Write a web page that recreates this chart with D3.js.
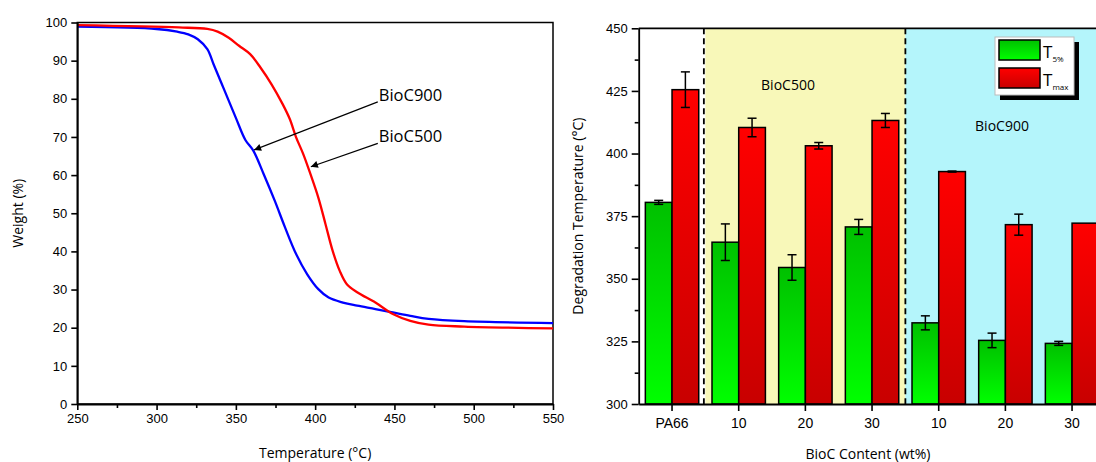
<!DOCTYPE html>
<html>
<head>
<meta charset="utf-8">
<script src="https://cdn.jsdelivr.net/npm/d3@7"></script>
<style>
  body { margin: 0; background: #fff; }
  svg { font-family: "Open Sans", sans-serif; }
</style>
</head>
<body>
<div id="chart"></div>
<script>
/* TGA curves (temperature in °C, weight in %) */
var bioc900 = [
  [250, 98.9], [300, 98.3], [313, 97.6], [320, 96.9], [326, 95.6], [332, 93],
  [336, 89], [343, 82], [350, 75], [356, 69.2], [361, 66.4], [367.5, 60.3],
  [374.5, 53.3], [381, 46.3], [388, 39.3], [395, 34], [402, 30.1], [408.5, 27.9],
  [417.5, 26.6], [426.5, 25.8], [438, 24.9], [449, 24], [460, 23.1], [471.5, 22.3],
  [494, 21.7], [550, 21.2]
];
var bioc500 = [
  [250, 99.3], [314, 98.7], [332, 98.3], [338.5, 97.6], [345.5, 96], [352, 93.9],
  [359, 91.7], [365.5, 88.2], [372.5, 83.8], [379.5, 78.6], [384, 74.7], [388, 69.9],
  [392.5, 65.5], [397, 60.3], [402, 54.1], [406.5, 47.2], [411, 40.2], [415.5, 34.9],
  [420, 31.4], [426.5, 29.3], [438, 26.6], [449, 23.6], [460, 21.8], [471.5, 20.8],
  [494, 20.3], [550, 19.8]
];
/* annotation labels: [text, tail x, tail y, tip x, tip y] in data units */
var notes = [
  ["BioC900", 439.5, 79.2, 361.5, 66.6],
  ["BioC500", 439.5, 68.3, 397.3, 62.2]
];

/* bar chart */
var categories = ["PA66", "10", "20", "30", "10 ", "20 ", "30 "];
var t5 = [380.5, 364.6, 354.5, 370.7, 332.4, 325.4, 324.2];
var t5Err = [0.8, 7.3, 5.1, 3.0, 2.8, 2.9, 0.8];
var tmax = [425.5, 410.4, 403.1, 413.2, 392.8, 371.6, 372.2];
var tmaxErr = [7.1, 3.7, 1.3, 2.8, 0.2, 4.2, 0];
var regionNames = ["BioC500", "BioC900"];
var regionFills = ["#f8f8b9", "#b4f5fb"];
var regionBands = [[1, 4], [4, 7]];

var svg = d3.select("#chart").append("svg")
    .attr("width", 1096)
    .attr("height", 462);

var defs = svg.append("defs");
function grad(id, c0, c1) {
  var g = defs.append("linearGradient").attr("id", id)
      .attr("x1", 0).attr("y1", 0).attr("x2", 0).attr("y2", 1);
  g.append("stop").attr("offset", "0%").attr("stop-color", c0);
  g.append("stop").attr("offset", "100%").attr("stop-color", c1);
}
grad("gGreen", "#00c000", "#00ff00");
grad("gRed", "#ff0000", "#c80000");
defs.append("marker").attr("id", "arrow")
    .attr("viewBox", "0 0 10 10").attr("refX", 10).attr("refY", 5)
    .attr("markerWidth", 10).attr("markerHeight", 7)
    .attr("markerUnits", "userSpaceOnUse")
    .attr("orient", "auto")
    .append("path").attr("d", "M0,0 L10,5 L0,10 Z").attr("fill", "#000");

/* ---------- left panel ---------- */
var L = {x0: 77.3, x1: 553, y0: 22.5, y1: 404};
var xL = d3.scaleLinear().domain([250, 550]).range([L.x0, L.x1]);
var yL = d3.scaleLinear().domain([0, 100]).range([L.y1, L.y0]);
var left = svg.append("g");

left.append("rect")
    .attr("x", L.x0).attr("y", L.y0)
    .attr("width", L.x1 - L.x0).attr("height", L.y1 - L.y0)
    .attr("fill", "none").attr("stroke", "#000").attr("stroke-width", 1.5);

var line = d3.line()
    .x(function(d){ return xL(d[0]); })
    .y(function(d){ return yL(d[1]); })
    .curve(d3.curveCatmullRom.alpha(0.5));

left.append("path").datum(bioc900)
    .attr("d", line).attr("fill", "none")
    .attr("stroke", "#0000ff").attr("stroke-width", 2.3);
left.append("path").datum(bioc500)
    .attr("d", line).attr("fill", "none")
    .attr("stroke", "#ff0000").attr("stroke-width", 2.3);

// minor x ticks
left.append("g")
    .attr("transform", "translate(0," + L.y1 + ")")
    .call(d3.axisBottom(xL).tickValues(d3.range(275, 550, 50)).tickSize(4).tickFormat(""))
    .call(function(g){ g.select(".domain").remove(); })
    .selectAll("line").attr("stroke-width", 1.3);

var axL = left.append("g")
    .attr("transform", "translate(0," + L.y1 + ")")
    .call(d3.axisBottom(xL).tickValues(d3.range(250, 551, 50)).tickSize(6).tickSizeOuter(0).tickPadding(4));
axL.selectAll("text").attr("font-size", 13).attr("fill", "#000");

var ayL = left.append("g")
    .attr("transform", "translate(" + L.x0 + ",0)")
    .call(d3.axisLeft(yL).tickValues(d3.range(0, 101, 10)).tickSize(6).tickSizeOuter(0).tickPadding(4));
ayL.selectAll("text").attr("font-size", 13).attr("fill", "#000");
left.selectAll(".domain").attr("stroke-width", 1.8);
left.selectAll(".tick line").attr("stroke-width", 1.6);

left.append("text")
    .attr("x", (L.x0 + L.x1) / 2).attr("y", 458)
    .attr("text-anchor", "middle").attr("font-size", 14)
    .text("Temperature (°C)");
left.append("text")
    .attr("transform", "translate(23," + (L.y0 + L.y1) / 2 + ") rotate(-90)")
    .attr("text-anchor", "middle").attr("font-size", 14)
    .text("Weight (%)");

notes.forEach(function(n) {
  left.append("line")
      .attr("x1", xL(n[1])).attr("y1", yL(n[2]))
      .attr("x2", xL(n[3])).attr("y2", yL(n[4]))
      .attr("stroke", "#000").attr("stroke-width", 1.2)
      .attr("marker-end", "url(#arrow)");
  left.append("text")
      .attr("x", xL(n[1]) + 1).attr("y", yL(n[2]) - 1)
      .attr("font-size", 16.5).attr("fill", "#000")
      .text(n[0]);
});

/* ---------- right panel ---------- */
var R = {x0: 638.7, y0: 28.3, y1: 404};
var band = 66.67;
var xR = d3.scaleBand().domain(categories)
    .range([R.x0, R.x0 + band * categories.length]);
var yR = d3.scaleLinear().domain([300, 450]).range([R.y1, R.y0]);
var right = svg.append("g");
var bw = 26.7;

// shaded groups and their labels
var labelPos = [[788, 86], [1002, 127]];
regionNames.forEach(function(name, i) {
  var xa = R.x0 + band * regionBands[i][0], xb = R.x0 + band * regionBands[i][1];
  right.append("rect")
      .attr("x", xa).attr("y", R.y0)
      .attr("width", xb - xa).attr("height", R.y1 - R.y0)
      .attr("fill", regionFills[i]);
  right.append("text")
      .attr("x", labelPos[i][0]).attr("y", labelPos[i][1])
      .attr("text-anchor", "middle").attr("font-size", 14)
      .attr("dominant-baseline", "middle")
      .text(name);
});

function bars(vals, errs, fill, offset) {
  var g = right.append("g");
  g.selectAll("rect").data(vals).join("rect")
      .attr("x", function(d, i){ return xR.bandwidth() / 2 + xR(categories[i]) + offset; })
      .attr("y", function(d){ return yR(d); })
      .attr("width", bw)
      .attr("height", function(d){ return R.y1 - yR(d); })
      .attr("fill", fill)
      .attr("stroke", "#000").attr("stroke-width", 1.5);
  vals.forEach(function(d, i) {
    if (!errs[i]) return;
    var cx = xR(categories[i]) + xR.bandwidth() / 2 + offset + bw / 2;
    var ya = yR(d + errs[i]), yb = yR(d - errs[i]);
    g.append("line").attr("x1", cx).attr("x2", cx).attr("y1", ya).attr("y2", yb)
        .attr("stroke", "#000").attr("stroke-width", 1.5);
    [ya, yb].forEach(function(yy) {
      g.append("line").attr("x1", cx - 4.5).attr("x2", cx + 4.5).attr("y1", yy).attr("y2", yy)
          .attr("stroke", "#000").attr("stroke-width", 1.5);
    });
  });
}
bars(t5, t5Err, "url(#gGreen)", -bw);
bars(tmax, tmaxErr, "url(#gRed)", 0);

// dashed separators
[1, 4].forEach(function(k) {
  var xx = R.x0 + band * k - (k === 1 ? 1.5 : 0);
  right.append("line")
      .attr("x1", xx).attr("x2", xx).attr("y1", R.y0).attr("y2", R.y1)
      .attr("stroke", "#000").attr("stroke-width", 1.8)
      .attr("stroke-dasharray", "6,4");
});

// frame top
right.append("line")
    .attr("x1", R.x0).attr("x2", 1096).attr("y1", R.y0).attr("y2", R.y0)
    .attr("stroke", "#000").attr("stroke-width", 1.8);

// minor y ticks
right.append("g")
    .attr("transform", "translate(" + R.x0 + ",0)")
    .call(d3.axisLeft(yR).tickValues(d3.range(312.5, 450, 25)).tickSize(4).tickFormat(""))
    .call(function(g){ g.select(".domain").remove(); });

var axR = right.append("g")
    .attr("transform", "translate(0," + R.y1 + ")")
    .call(d3.axisBottom(xR).tickSize(7).tickSizeOuter(0).tickPadding(7));
axR.selectAll("text").attr("font-size", 14).attr("fill", "#000");

var ayR = right.append("g")
    .attr("transform", "translate(" + R.x0 + ",0)")
    .call(d3.axisLeft(yR).tickValues(d3.range(300, 451, 25)).tickSize(7).tickSizeOuter(0).tickPadding(4));
ayR.selectAll("text").attr("font-size", 13).attr("fill", "#000");
right.selectAll(".domain").attr("stroke-width", 1.8);
right.selectAll(".tick line").attr("stroke-width", 1.6);

right.append("text")
    .attr("x", 868).attr("y", 459)
    .attr("text-anchor", "middle").attr("font-size", 14)
    .text("BioC Content (wt%)");
right.append("text")
    .attr("transform", "translate(583," + (R.y0 + R.y1) / 2 + ") rotate(-90)")
    .attr("text-anchor", "middle").attr("font-size", 14)
    .text("Degradation Temperature (°C)");

// legend
var lg = right.append("g").attr("transform", "translate(995,37)");
lg.append("rect").attr("x", 5).attr("y", 5).attr("width", 79).attr("height", 58).attr("fill", "#000");
lg.append("rect").attr("x", 0).attr("y", 0).attr("width", 79).attr("height", 58)
    .attr("fill", "#fff").attr("stroke", "#bbb").attr("stroke-width", 1);
var legendItems = [["5%", "url(#gGreen)"], ["max", "url(#gRed)"]];
legendItems.forEach(function(it, i) {
  var yy = 3 + i * 28;
  lg.append("rect").attr("x", 4).attr("y", yy).attr("width", 41).attr("height", 20)
      .attr("fill", it[1]).attr("stroke", "#000").attr("stroke-width", 1.5);
  var t = lg.append("text").attr("x", 48).attr("y", yy + 18).attr("font-size", 17).text("T");
  t.append("tspan").attr("font-size", 8).attr("dy", 4).text(it[0]);
});
</script>
</body>
</html>
